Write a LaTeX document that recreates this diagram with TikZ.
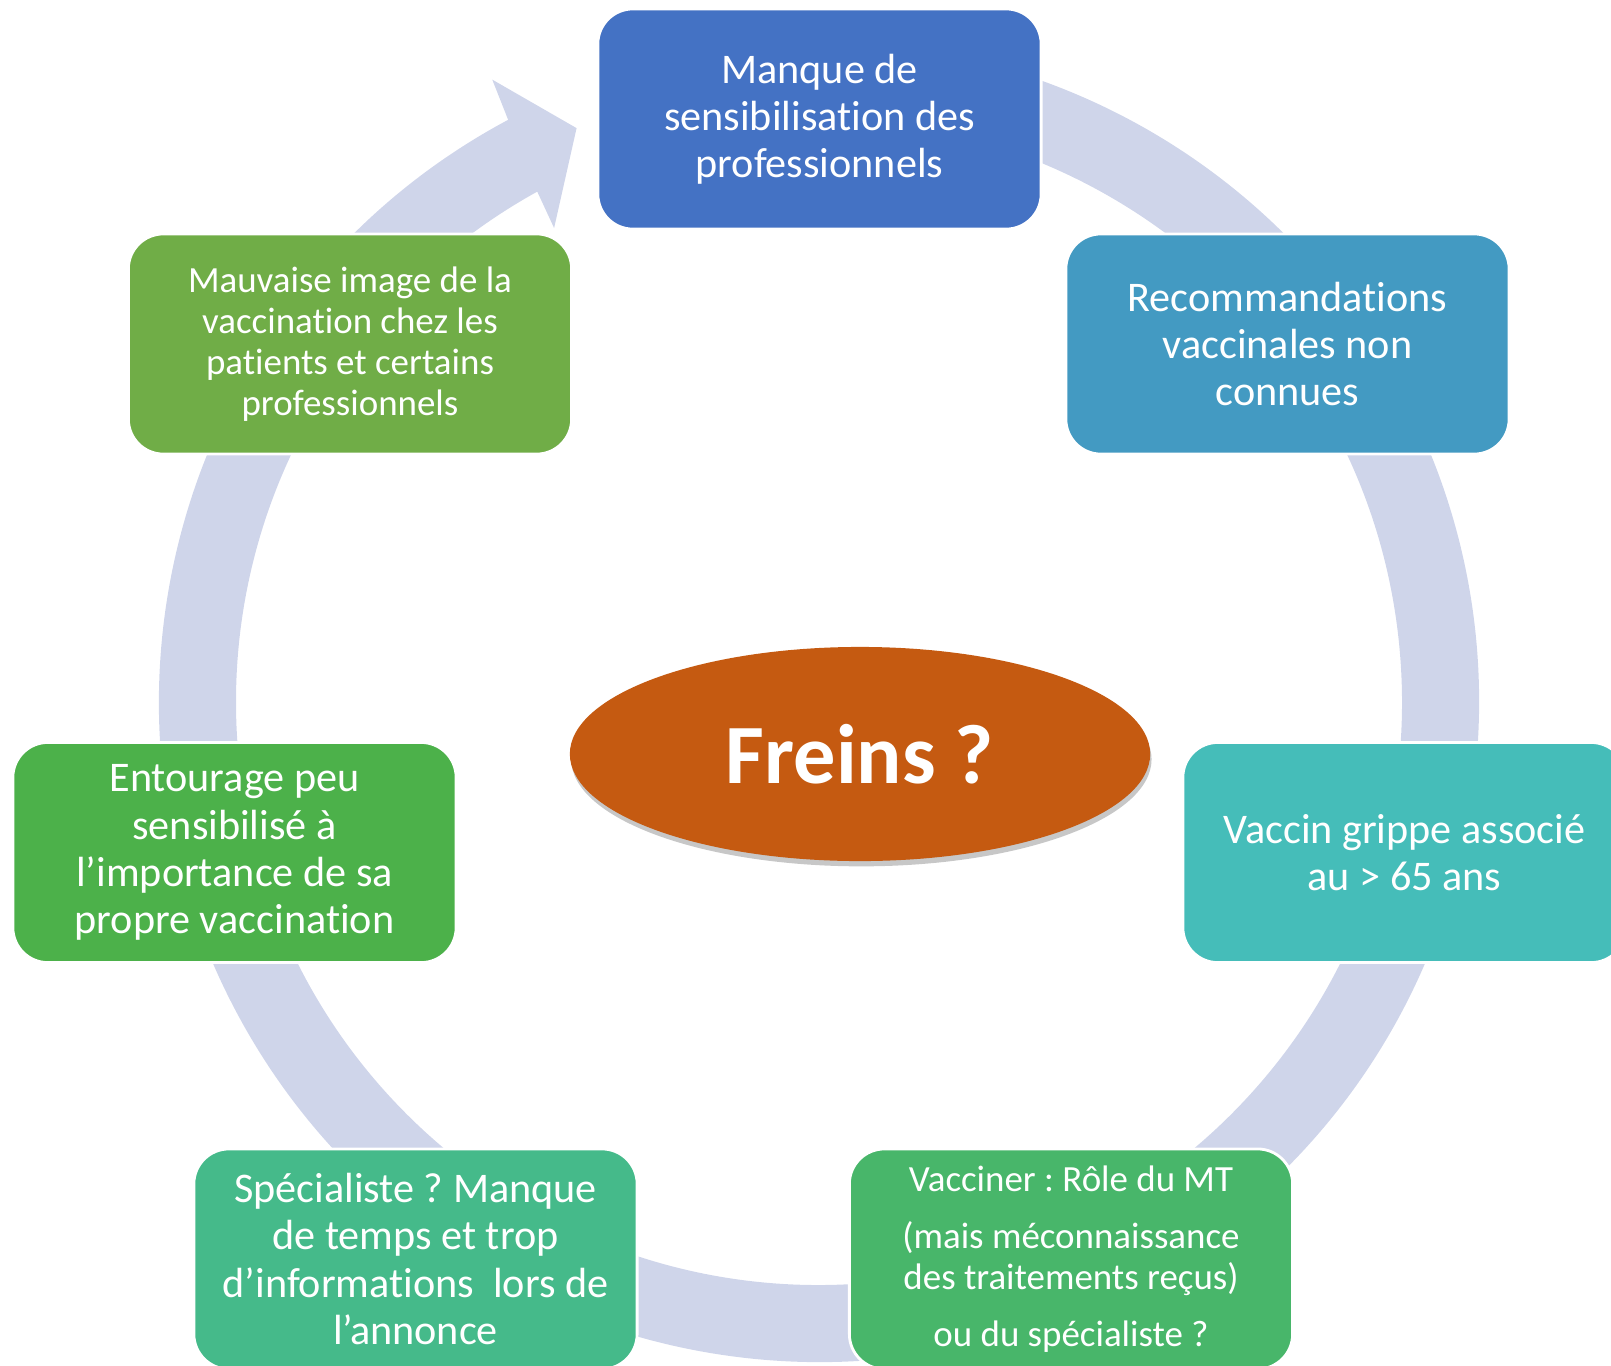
\documentclass[tikz,border=0pt]{standalone}
\usepackage{fontspec}
\setmainfont{Carlito}[RawFeature={-liga;-clig;-calt;-dlig}]
\usepackage{xcolor}
\usepackage{tikz}
\usetikzlibrary{calc}
\usetikzlibrary{shapes.geometric}
\usetikzlibrary{shadows}
\frenchspacing
\definecolor{ringc}{HTML}{CFD5EA}
\definecolor{cM}{HTML}{4472C4}
\definecolor{cR}{HTML}{439AC2}
\definecolor{cV}{HTML}{45BDB9}
\definecolor{cT}{HTML}{48B66A}
\definecolor{cS}{HTML}{45BA8A}
\definecolor{cE}{HTML}{4CB14A}
\definecolor{cI}{HTML}{70AD47}
\definecolor{cF}{HTML}{C55A11}
\tikzstyle{blk} = [rectangle, rounded corners=0.35cm, minimum width=4.43cm, minimum height=2.2cm, inner sep=2pt, draw=white, line width=0.8pt, text=white, align=center, font=\fontsize{12}{13.4}\selectfont]
\tikzstyle{small} = [font=\fontsize{10.5}{11.7}\selectfont]

\begin{document}
\begin{tikzpicture}[x=0.01cm, y=0.01cm]
\useasboundingbox (0,0) rectangle (1611,-1366);
% the cycle arrow
\fill [ringc, shift={(819,-702)}] (118.1:660) arc [start angle=118.1, end angle=455, radius=660] -- (455:583) arc [start angle=455, end angle=118.9, radius=583] -- (119.2:543) -- (112.9:623) -- (117.7:703) -- cycle;
\node [blk, fill=cM] (M) at (819.5,-119) {Manque de\\sensibilisation des\\professionnels};
\node [blk, fill=cR] (R) at (1287.5,-344) {Recommandations\\vaccinales non\\connues};
\node [blk, fill=cV] (V) at (1404.5,-852.5) {Vaccin grippe associé\\au > 65 ans};
\node [blk, small, fill=cT] (T) at (1071,-1259) {Vacciner : Rôle du MT\\[4.5pt](mais méconnaissance\\des traitements reçus)\\[4.5pt]ou du spécialiste ?};
\node [blk, fill=cS] (S) at (415.5,-1259) {Spécialiste ? Manque\\de temps et trop\\d’informations\ \ lors de\\l’annonce};
\node [blk, fill=cE] (E) at (234.5,-852.5) {Entourage peu\\sensibilisé à\\l’importance de sa\\propre vaccination};
\node [blk, small, fill=cI] (I) at (350,-344) {Mauvaise image de la\\vaccination chez les\\patients et certains\\professionnels};
\node [ellipse, fill=cF, minimum width=5.8cm, minimum height=2.14cm, text=white, font={\fontsize{24}{28}\selectfont\bfseries}, drop shadow={shadow xshift=0.4pt, shadow yshift=-1.5pt, fill=black, opacity=0.22}] (F) at (860,-754) {Freins ?};
\end{tikzpicture}
\end{document}
